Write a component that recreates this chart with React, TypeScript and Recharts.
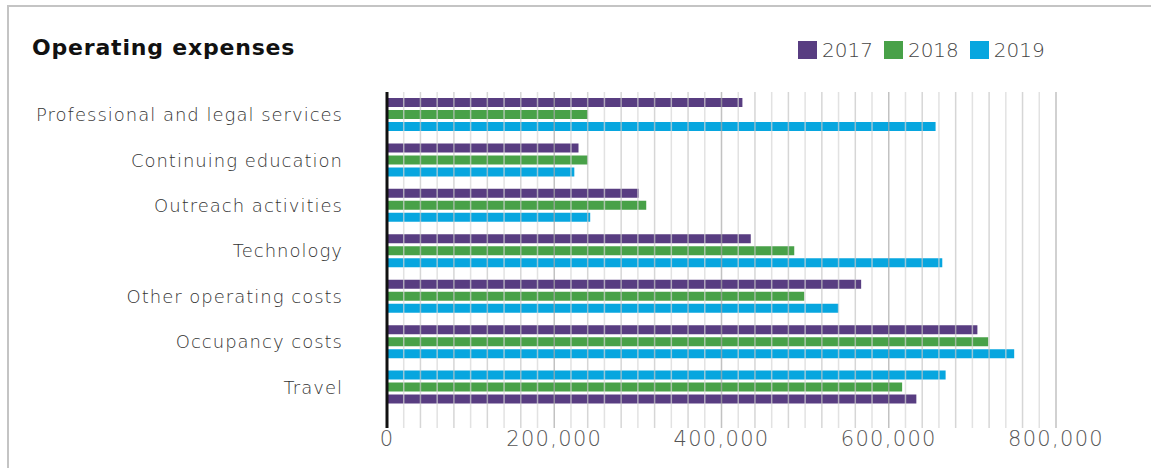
import React from "react";
import { BarChart, Bar, XAxis, YAxis, ReferenceLine, Cell } from "recharts";

const categories = [
  "Professional and legal services",
  "Continuing education",
  "Outreach activities",
  "Technology",
  "Other operating costs",
  "Occupancy costs",
  "Travel",
];
const values2017 = [425000, 229000, 301000, 435000, 567000, 706000, 633000];
const values2018 = [240000, 240000, 310000, 487000, 499000, 719000, 616000];
const values2019 = [656000, 224000, 243000, 664000, 540000, 750000, 668000];
const reversedCategories = ["Travel"];
const years = ["2017", "2018", "2019"];
const xTicks = [0, 200000, 400000, 600000, 800000];
const gridValues = [
  20000, 40000, 60000, 80000, 100000, 120000, 140000, 160000, 180000, 200000,
  220000, 240000, 260000, 280000, 300000, 320000, 340000, 360000, 380000, 400000,
  420000, 440000, 460000, 480000, 500000, 520000, 540000, 560000, 580000, 600000,
  620000, 640000, 660000, 680000, 700000, 720000, 740000, 760000, 780000, 800000,
];

const COLORS: Record<string, string> = {
  "2017": "#583d81",
  "2018": "#48a148",
  "2019": "#07a6df",
};

const seriesByYear: Record<string, number[]> = {
  "2017": values2017,
  "2018": values2018,
  "2019": values2019,
};

const data = categories.map((name, i) => {
  const order = reversedCategories.includes(name) ? [...years].reverse() : years;
  return {
    name,
    top: seriesByYear[order[0]][i],
    mid: seriesByYear[order[1]][i],
    bot: seriesByYear[order[2]][i],
    topYear: order[0],
    midYear: order[1],
    botYear: order[2],
  };
});

const FONT = "'DejaVu Sans', 'Open Sans', sans-serif";

export default function App() {
  return (
    <div style={{ position: "relative", width: 1151, height: 468, fontFamily: FONT }}>
      <style>{`body{margin:0;background:#fff}`}</style>
      <div
        style={{
          position: "absolute",
          left: 7,
          top: 5,
          width: 1144,
          height: 463,
          borderTop: "2px solid #c4c4c4",
          borderLeft: "2px solid #c4c4c4",
        }}
      />
      <div
        style={{
          position: "absolute",
          left: 32,
          top: 34,
          fontSize: 22,
          fontWeight: 700,
          color: "#111",
          lineHeight: "28px",
          letterSpacing: 0.8,
          whiteSpace: "nowrap",
        }}
      >
        Operating expenses
      </div>
      <div style={{ position: "absolute", left: 798, top: 38, display: "flex", alignItems: "center" }}>
        {years.map((y) => (
          <div key={y} style={{ display: "flex", alignItems: "center", marginRight: 11 }}>
            <div style={{ width: 19, height: 18, background: COLORS[y], marginRight: 5 }} />
            <span style={{ fontSize: 20, fontWeight: 300, color: "#444", lineHeight: "24px" }}>{y}</span>
          </div>
        ))}
      </div>
      <BarChart
        width={1151}
        height={468}
        data={data}
        layout="vertical"
        margin={{ top: 92, right: 95, bottom: 8, left: 0 }}
        barSize={9}
        barGap={3}
        style={{ position: "absolute", left: 0, top: 0 }}
      >
        <XAxis
          type="number"
          domain={[0, 800000]}
          ticks={xTicks}
          axisLine={false}
          tickLine={false}
          tickSize={0}
          tickMargin={3}
          height={32}
          tickFormatter={(v: number) => v.toLocaleString("en-US")}
          tick={{ fontSize: 21, fill: "#555", fontWeight: 300, fontFamily: FONT, letterSpacing: 1.3 }}
        />
        <YAxis
          type="category"
          dataKey="name"
          width={387}
          padding={{ top: 0, bottom: 18 }}
          tickLine={false}
          tickSize={0}
          tickMargin={44}
          axisLine={{ stroke: "#111", strokeWidth: 3 }}
          tick={{ fontSize: 18, fill: "#333", fontWeight: 300, fontFamily: FONT, letterSpacing: 1 }}
        />
        <Bar dataKey="top" isAnimationActive={false}>
          {data.map((d, i) => (
            <Cell key={i} fill={COLORS[d.topYear]} />
          ))}
        </Bar>
        <Bar dataKey="mid" isAnimationActive={false}>
          {data.map((d, i) => (
            <Cell key={i} fill={COLORS[d.midYear]} />
          ))}
        </Bar>
        <Bar dataKey="bot" isAnimationActive={false}>
          {data.map((d, i) => (
            <Cell key={i} fill={COLORS[d.botYear]} />
          ))}
        </Bar>
        {gridValues.map((v) => (
          <ReferenceLine
            key={v}
            x={v}
            stroke={v % 200000 === 0 ? "#a8a8a8" : v % 40000 === 0 ? "#c4c4c4" : "#d6d6d6"}
            strokeOpacity={0.7}
            strokeWidth={1.5}
          />
        ))}
      </BarChart>
    </div>
  );
}
